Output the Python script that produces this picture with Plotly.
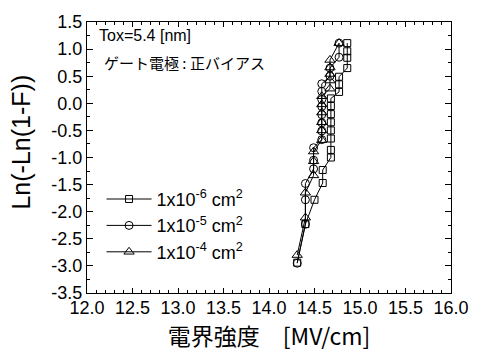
import plotly.graph_objects as go

# Data (Weibull plot)
sq_x = [14.31, 14.40, 14.50, 14.59, 14.59, 14.68, 14.68, 14.68, 14.68, 14.68, 14.68, 14.68, 14.68, 14.77, 14.77, 14.77, 14.86, 14.86, 14.86, 14.86]
sq_y = [-2.94, -2.23, -1.78, -1.47, -1.23, -1.00, -0.86, -0.65, -0.50, -0.35, -0.20, -0.05, 0.09, 0.21, 0.35, 0.49, 0.65, 0.84, 0.96, 1.11]

ci_x = [14.31, 14.40, 14.40, 14.40, 14.49, 14.49, 14.49, 14.58, 14.58, 14.58, 14.58, 14.58, 14.58, 14.58, 14.58, 14.67, 14.67, 14.77, 14.77]
ci_y = [-2.95, -2.23, -1.78, -1.48, -1.21, -1.05, -0.82, -0.67, -0.51, -0.36, -0.21, -0.06, 0.07, 0.22, 0.36, 0.50, 0.65, 0.85, 1.11]

tr_x = [14.31, 14.40, 14.40, 14.49, 14.49, 14.49, 14.58, 14.58, 14.58, 14.58, 14.58, 14.58, 14.67, 14.67, 14.67, 14.67, 14.67, 14.77]
tr_y = [-2.80, -2.11, -1.65, -1.33, -1.07, -0.89, -0.68, -0.50, -0.35, -0.17, -0.02, 0.13, 0.27, 0.42, 0.54, 0.66, 0.80, 1.11]

names = ["1x10<sup>-6</sup> cm<sup>2</sup>", "1x10<sup>-5</sup> cm<sup>2</sup>", "1x10<sup>-4</sup> cm<sup>2</sup>"]
x_ticks = [12.0, 12.5, 13.0, 13.5, 14.0, 14.5, 15.0, 15.5, 16.0]
y_ticks = [1.5, 1.0, 0.5, 0.0, -0.5, -1.0, -1.5, -2.0, -2.5, -3.0, -3.5]

fig = go.Figure()
series = [(sq_x, sq_y, "square-open", 7), (ci_x, ci_y, "circle-open", 8), (tr_x, tr_y, "triangle-up-open", 9)]
for (xs, ys, sym, sz), nm in zip(series, names):
    fig.add_trace(go.Scatter(
        x=xs, y=ys, mode="lines+markers", name=nm,
        line=dict(color="black", width=1),
        marker=dict(symbol=sym, size=sz, color="black", line=dict(color="black", width=1)),
    ))

axis_font = dict(family="Liberation Sans, Arial, sans-serif", size=18, color="black")
fig.update_xaxes(
    range=[12.0, 16.0], tickvals=x_ticks, ticktext=[f"{v:.1f}" for v in x_ticks],
    ticks="inside", ticklen=5, tickcolor="black", tickwidth=1,
    minor=dict(dtick=0.1, ticks="inside", ticklen=3, tickcolor="black", tickwidth=1),
    showline=True, linecolor="black", linewidth=1, mirror="allticks",
    showgrid=False, zeroline=False, tickfont=axis_font, ticklabelstandoff=-2,
    title=dict(text="電界強度　[MV/cm]", font=dict(family="Noto Sans CJK JP, Liberation Sans, sans-serif", size=23, color="black"), standoff=3),
)
fig.update_yaxes(
    range=[-3.5, 1.5], tickvals=y_ticks, ticktext=[f"{v:.1f}" for v in y_ticks],
    ticks="inside", ticklen=6, tickcolor="black", tickwidth=1,
    minor=dict(dtick=0.25, ticks="inside", ticklen=3, tickcolor="black", tickwidth=1),
    showline=True, linecolor="black", linewidth=1, mirror="allticks",
    showgrid=False, zeroline=False, tickfont=axis_font,
)

# y-axis title (placed as rotated text, slightly above centre as in the reference)
fig.add_annotation(x=-0.18, y=0.557, xref="paper", yref="paper", xanchor="center", yanchor="middle",
                   text="Ln(-Ln(1-F))", textangle=-90, showarrow=False,
                   font=dict(family="Liberation Sans, Arial, sans-serif", size=25, color="black"))
fig.add_annotation(x=0.027, y=0.99, xref="paper", yref="paper", xanchor="left", yanchor="top",
                   text="Tox=5.4 [nm]", showarrow=False,
                   font=dict(family="Liberation Sans, Arial, sans-serif", size=16, color="black"))
fig.add_annotation(x=0.04, y=0.85, xref="paper", yref="paper", xanchor="left", yanchor="middle",
                   text="ゲート電極 : 正バイアス", showarrow=False,
                   font=dict(family="Noto Sans CJK JP, sans-serif", size=15, color="black"))

fig.update_layout(
    width=481, height=353,
    margin=dict(l=87, r=22, t=13, b=60),
    paper_bgcolor="white", plot_bgcolor="white",
    showlegend=True,
    legend=dict(x=0.04, y=0.414, xanchor="left", yanchor="top", bgcolor="rgba(0,0,0,0)",
                font=dict(family="Liberation Sans, Arial, sans-serif", size=18, color="black"),
                itemwidth=45),
)

fig.write_html("out.html", config={"displayModeBar": False},
               post_script="document.body.style.margin='0px';")
